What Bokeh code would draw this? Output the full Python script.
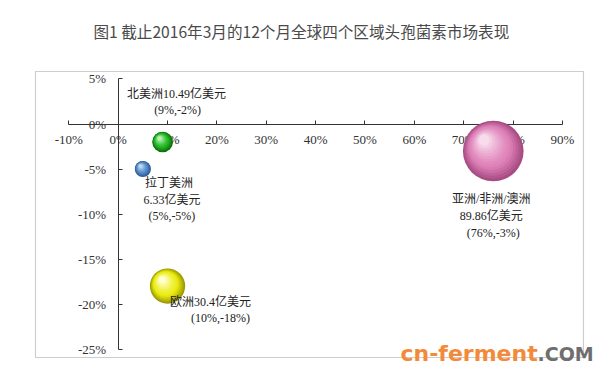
import numpy as np
from bokeh.plotting import figure
from bokeh.models import (ColumnDataSource, LinearAxis, FixedTicker,
                          PrintfTickFormatter, Range1d, Label, BoxAnnotation)
from bokeh.core.properties import value
from bokeh.embed import file_html
from bokeh.resources import INLINE

# ---------------- data ----------------
title_text = "图1 截止2016年3月的12个月全球四个区域头孢菌素市场表现"
regions = ["北美洲", "拉丁美洲", "欧洲", "亚洲/非洲/澳洲"]
market_size = [10.49, 6.33, 30.4, 89.86]      # 亿美元
share_pct = [9, 5, 10, 76]                     # x: %
growth_pct = [-2, -5, -18, -3]                 # y: %
x_ticks = [-10, 0, 10, 20, 30, 40, 50, 60, 70, 80, 90]
y_ticks = [5, 0, -5, -10, -15, -20, -25]
watermark_parts = ["cn-ferment", ".COM"]

# ---------------- layout / style ----------------
W, H = 600, 366
# the plotting frame fills the whole canvas; the chart-area border is drawn as a box
X0, X1 = -23.85, 97.73
Y0, Y1 = -26.94, 13.72
BOX = dict(left=-16.76, right=94.28, top=5.83, bottom=-25.94)
px_x = W / (X1 - X0)
px_y = H / (Y1 - Y0)

bubble_scale = 3.2  # px radius per sqrt(亿美元)
sphere_colors = [
    ("#0b6e0b", "#22b522", "#b4f4b4"),
    ("#2c5a94", "#5088c6", "#c4daf2"),
    ("#9c9c00", "#ecec14", "#ffffd0"),
    ("#a84c84", "#de80b8", "#f8dcec"),
]
# label line layout per region: (line kind, dx px, dy px)
label_layout = [
    [("name_value", 14, -48), ("coords", 15, -32)],
    [("name", 26, 14), ("value", 29, 31), ("coords", 29, 47)],
    [("name_value", 43, 16), ("coords", 53, 32)],
    [("name", -2, 48), ("value", -2, 65), ("coords", 0, 82)],
]

serif = value("'Liberation Serif', 'Noto Sans CJK SC'")

p = figure(width=W, height=H, output_backend="svg", toolbar_location=None,
           title=None,
           x_range=Range1d(X0, X1), y_range=Range1d(Y0, Y1),
           x_axis_type=None, y_axis_type=None,
           min_border_left=0, min_border_right=0,
           min_border_top=0, min_border_bottom=0)
p.background_fill_color = "white"
p.border_fill_color = "white"
p.outline_line_color = None

p.add_layout(BoxAnnotation(**BOX, fill_color=None, fill_alpha=0,
                           line_color="#5a5a5a", line_width=1.2))

def style_axis(ax, standoff):
    ax.axis_line_color = "#333333"
    ax.axis_line_width = 1
    ax.major_tick_line_color = "#333333"
    ax.major_tick_in = 4
    ax.major_tick_out = 0
    ax.minor_tick_line_color = None
    ax.major_label_standoff = standoff
    ax.major_label_text_font = "Liberation Serif"
    ax.major_label_text_font_size = "13px"
    ax.major_label_text_color = "#333333"

xaxis = LinearAxis(fixed_location=0, bounds=(x_ticks[0], x_ticks[-1]),
                   ticker=FixedTicker(ticks=x_ticks),
                   formatter=PrintfTickFormatter(format="%d%%"))
style_axis(xaxis, 8)
p.add_layout(xaxis, "below")

yaxis = LinearAxis(fixed_location=0, bounds=(min(y_ticks), max(y_ticks)),
                   ticker=FixedTicker(ticks=y_ticks),
                   formatter=PrintfTickFormatter(format="%d%%"))
style_axis(yaxis, 12)
p.add_layout(yaxis, "left")

# ---------------- title ----------------
p.add_layout(Label(x=93, y=H - 30, x_units="screen", y_units="screen",
                   text=title_text, text_font="Noto Sans CJK SC",
                   text_font_size="15.6px", text_color="#4a4a4a",
                   text_baseline="middle", text_align="left"))

# ---------------- spheres (layered circles emulate shading) ----------------
def hex2rgb(h):
    h = h.lstrip("#")
    return np.array([int(h[i:i + 2], 16) for i in (0, 2, 4)], dtype=float)

def rgb2hex(c):
    c = np.clip(np.round(c), 0, 255).astype(int)
    return "#%02x%02x%02x" % tuple(c)

N = 14
bx, by, bs, bc = [], [], [], []
for i in range(N):
    t = i / (N - 1)
    for j in range(len(regions)):
        R = bubble_scale * np.sqrt(market_size[j])
        dark, base, light = (hex2rgb(c) for c in sphere_colors[j])
        if t < 0.35:
            col = dark + (base - dark) * (t / 0.35)
        else:
            col = base + (light - base) * ((t - 0.35) / 0.65) ** 1.3
        r = R * (1 - 0.82 * t)
        ox = -0.30 * R * t
        oy = -0.36 * R * t
        bx.append(share_pct[j] + ox / px_x)
        by.append(growth_pct[j] - oy / px_y)
        bs.append(2 * r)
        bc.append(rgb2hex(col))

bubbles = ColumnDataSource(dict(x=bx, y=by, size=bs, color=bc))
rend = p.scatter("x", "y", size="size", source=bubbles, fill_color="color",
                 line_color=None, marker="circle")
rend.level = "overlay"

# ---------------- labels ----------------
lx, ly, lt, lxo, lyo = [], [], [], [], []
for j in range(len(regions)):
    pieces = {
        "name": regions[j],
        "value": f"{market_size[j]:g}亿美元",
        "name_value": f"{regions[j]}{market_size[j]:g}亿美元",
        "coords": f"({share_pct[j]}%,{growth_pct[j]}%)",
    }
    for kind, dx, dy in label_layout[j]:
        lx.append(share_pct[j]); ly.append(growth_pct[j])
        lt.append(pieces[kind]); lxo.append(dx); lyo.append(dy)

labels = ColumnDataSource(dict(x=lx, y=ly, text=lt, xo=lxo, yo=lyo))
trend = p.text("x", "y", text="text", x_offset="xo", y_offset="yo", source=labels,
               text_align="center", text_baseline="middle", text_font=serif,
               text_font_size="12px", text_color="#222222")
trend.level = "overlay"

# ---------------- watermark ----------------
p.add_layout(Label(x=400, y=H - 353, x_units="screen", y_units="screen",
                   text=watermark_parts[0], text_font="DejaVu Sans",
                   text_font_style="bold", text_font_size="22px",
                   text_color="#f28a3a", text_baseline="alphabetic"))
p.add_layout(Label(x=537, y=H - 353, x_units="screen", y_units="screen",
                   text=watermark_parts[1], text_font="DejaVu Sans",
                   text_font_style="bold", text_font_size="19px",
                   text_color="#6e6e6e", text_baseline="alphabetic"))

open("out.html", "w").write(file_html(p, INLINE))
